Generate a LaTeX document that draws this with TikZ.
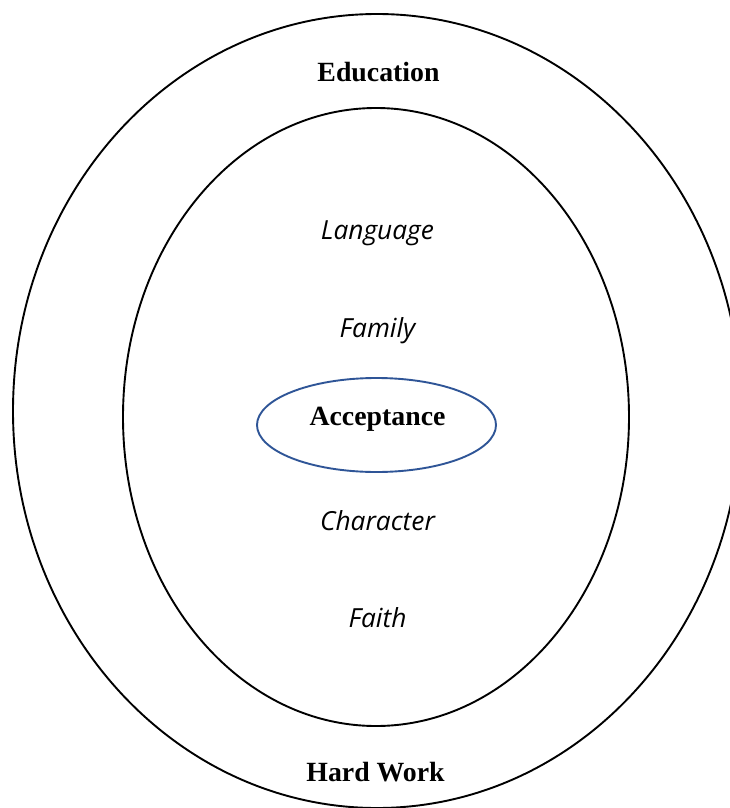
\documentclass[tikz,border=0pt]{standalone}
\usepackage{fontspec}
\setmainfont{Liberation Serif}
\newfontfamily\handfont{Open Sans}
\usetikzlibrary{shapes.geometric}
\definecolor{ringblue}{HTML}{2F5597}
\tikzset{
  ring/.style={ellipse, draw=black, line width=1.9pt, inner sep=0pt},
  core/.style={ellipse, draw=ringblue, line width=1.9pt, inner sep=0pt},
  boldlbl/.style={anchor=base, inner sep=0pt, font=\fontsize{27.8}{30}\selectfont\bfseries},
  handlbl/.style={anchor=base, inner sep=0pt, font=\handfont\fontsize{26.3}{28}\selectfont\itshape},
}
\begin{document}
\begin{tikzpicture}[x=1pt,y=-1pt]
\useasboundingbox (0,0) rectangle (730,808);
\fill[white] (0,0) rectangle (730,808);
\node[ring, minimum width=728pt, minimum height=794pt] (outer) at (377,411) {};
\node[ring, minimum width=506pt, minimum height=618pt] (inner) at (376,417) {};
\node[core, minimum width=239pt, minimum height=94pt] (acc) at (376.5,425) {};
\node[boldlbl] (educ) at (378.5,81.5) {Education};
\node[boldlbl] (hard) at (375.5,781) {Hard Work};
\node[boldlbl] (acctext) at (377.5,425.5) {Acceptance};
\node[handlbl] (lang) at (377.5,239) {Language};
\node[handlbl] (fam) at (377.5,337) {Family};
\node[handlbl] (char) at (377.5,530) {Character};
\node[handlbl] (faith) at (377.5,627) {Faith};
\end{tikzpicture}
\end{document}
